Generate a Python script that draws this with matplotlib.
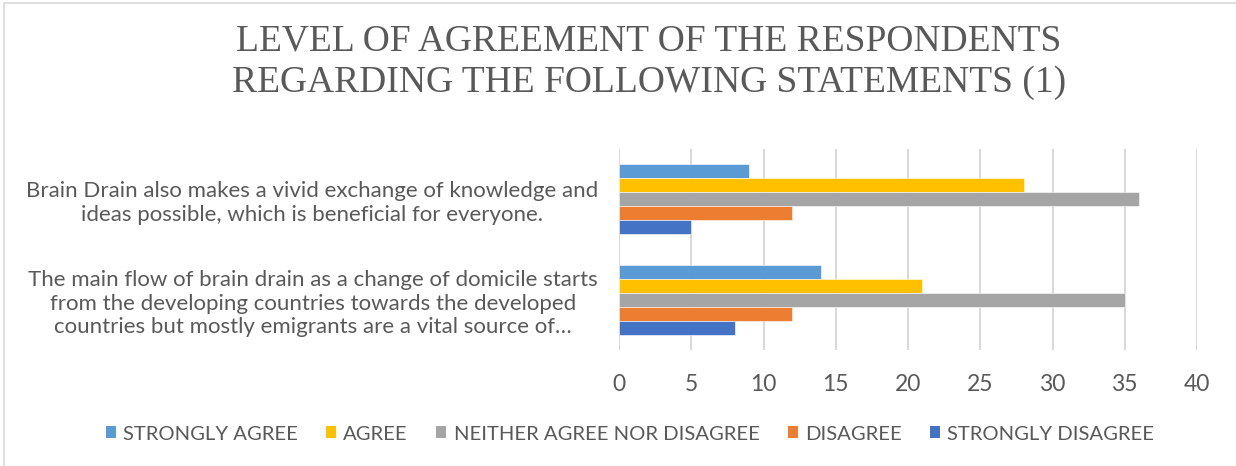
import matplotlib
matplotlib.use("Agg")
import matplotlib.pyplot as plt
from matplotlib.patches import Rectangle, Patch
import numpy as np

# Chart data
categories = [
    "The main flow of brain drain as a change of domicile starts\nfrom the developing countries towards the developed\ncountries but mostly emigrants are a vital source of\u2026",
    "Brain Drain also makes a vivid exchange of knowledge and\nideas possible, which is beneficial for everyone.",
]
series_names = [
    "STRONGLY AGREE",
    "AGREE",
    "NEITHER AGREE NOR DISAGREE",
    "DISAGREE",
    "STRONGLY DISAGREE",
]
strongly_agree = [14, 9]
agree = [21, 28]
neither = [35, 36]
disagree = [12, 12]
strongly_disagree = [8, 5]
x_ticks = [0, 5, 10, 15, 20, 25, 30, 35, 40]
title = "LEVEL OF AGREEMENT OF THE RESPONDENTS\nREGARDING THE FOLLOWING STATEMENTS (1)"

series_values = [strongly_agree, agree, neither, disagree, strongly_disagree]
colors = ["#5B9BD5", "#FFC000", "#A5A5A5", "#ED7D31", "#4472C4"]
text_color = "#595959"
grid_color = "#D9D9D9"
label_font = "Lato"

W, H = 1236, 466
fig = plt.figure(figsize=(W / 100, H / 100), dpi=100)
fig.patch.set_facecolor("white")

# chart frame
fig.patches.append(Rectangle((4 / W, -0.05), 1.1, 1 - 3 / H + 0.05,
                             transform=fig.transFigure, fill=False,
                             edgecolor=grid_color, linewidth=1.2))

ax = fig.add_axes([619 / W, 1 - 350 / H, (1197 - 619) / W, (350 - 149) / H])

y = np.arange(len(categories))
bar_h = 0.14
n = len(series_values)
for i, (name, vals, c) in enumerate(zip(series_names, series_values, colors)):
    offset = (n - 1) / 2 * bar_h - i * bar_h
    ax.barh(y + offset, vals, height=bar_h, color=c, label=name,
            edgecolor="white", linewidth=0.4, zorder=3)

ax.set_xlim(0, 40)
ax.set_ylim(-0.5, len(categories) - 0.5)
ax.set_xticks(x_ticks)
ax.set_xticklabels([str(t) for t in x_ticks], fontsize=16.5, color=text_color,
                   family=label_font)
ax.set_yticks(y)
ax.set_yticklabels(categories, fontsize=16, color=text_color,
                   family=label_font, multialignment="center", linespacing=1.22)
ax.tick_params(axis="both", length=0)
ax.tick_params(axis="x", pad=17)
ax.tick_params(axis="y", pad=15)
ax.grid(axis="x", color=grid_color, linewidth=1.5, zorder=0)
for s in ax.spines.values():
    s.set_visible(False)

fig.text(0.5 + 31 / W, 1 - 62 / H, title, ha="center", va="center",
         fontsize=27, family="Liberation Serif", color=text_color,
         linespacing=1.28)

handles = [Patch(facecolor=c, edgecolor="none") for c in colors]
fig.legend(handles, series_names, loc="center", ncol=5,
           bbox_to_anchor=(630 / W, 1 - 434 / H), frameon=False,
           prop={"family": label_font, "size": 14.6},
           labelcolor=text_color, handlelength=0.5, handleheight=0.55,
           handletextpad=0.35, columnspacing=1.4)

fig.savefig("out.png", dpi=100, facecolor="white")
